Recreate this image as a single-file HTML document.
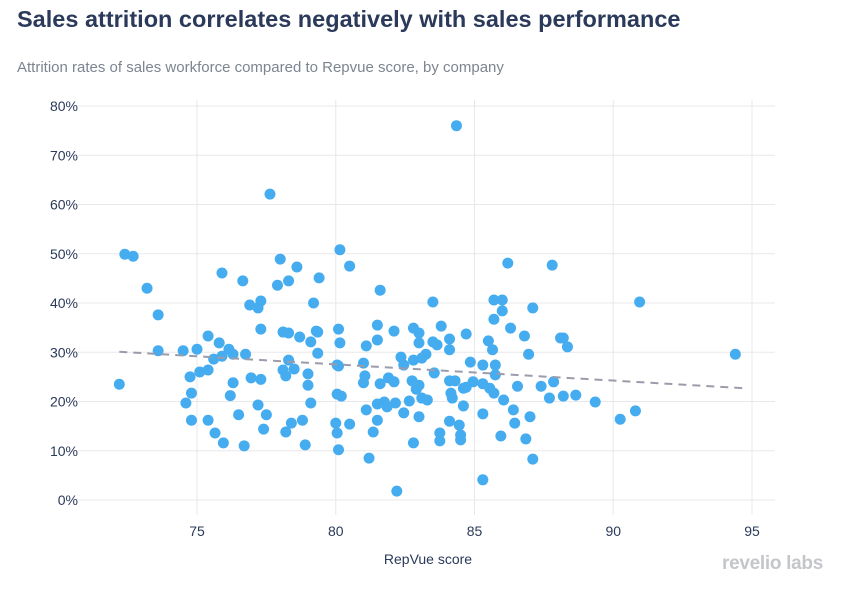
<!DOCTYPE html>
<html><head><meta charset="utf-8"><style>
body{margin:0;background:#fff;width:855px;height:590px;overflow:hidden;font-family:"Liberation Sans",sans-serif}
#title{position:absolute;left:17px;top:6px;font-size:23.5px;font-weight:bold;color:#2b3a5a;margin:0}
#sub{position:absolute;left:17px;top:59px;font-size:15px;color:#7d8590}
#logo{position:absolute;left:722px;top:553px;font-size:19px;font-weight:bold;color:#c4c6ca;letter-spacing:-0.3px}
svg{position:absolute;left:0;top:0}
</style></head><body>
<h1 id="title">Sales attrition correlates negatively with sales performance</h1>
<div id="sub">Attrition rates of sales workforce compared to Repvue score, by company</div>
<div id="logo">revelio labs</div>
<svg id="chart" width="855" height="590"></svg>
<script>
const xTicks=[75,80,85,90,95];
const yTicks=[0,10,20,30,40,50,60,70,80];
const repvue=[77.63,72.4,72.7,73.2,73.6,73.6,72.2,74.5,75.0,75.4,75.8,76.15,76.3,76.75,75.9,75.6,75.9,76.65,78.0,78.6,79.4,77.9,78.3,76.9,77.2,77.3,79.2,77.3,78.1,78.3,78.7,79.3,79.35,79.1,79.35,78.3,78.1,78.5,78.2,79.0,79.0,79.1,78.8,78.4,78.2,78.9,77.4,77.5,77.2,76.95,77.3,76.3,76.2,76.5,76.7,75.95,75.65,75.4,74.8,74.6,74.8,74.75,75.1,75.4,80.15,80.1,80.15,80.05,80.05,80.0,80.05,80.1,
80.5,81.6,83.5,81.5,81.5,81.1,82.1,82.8,83.0,83.0,83.5,83.65,83.8,84.1,84.1,84.7,85.5,85.65,86.3,86.8,86.95,86.0,85.7,85.7,86.0,87.1,86.2,87.8,88.1,80.1,81.0,81.05,81.0,81.6,81.9,82.1,82.35,82.45,82.8,83.1,83.25,83.55,82.75,83.0,82.9,84.1,84.3,84.6,84.7,84.95,84.85,85.3,85.75,85.75,85.3,85.55,85.7,86.05,86.55,87.4,87.85,87.7,80.2,81.1,81.5,81.75,81.85,82.15,82.65,83.1,83.3,84.15,84.2,82.45,83.0,84.6,84.1,84.45,85.3,86.4,86.45,87.0,85.95,86.85,87.1,80.5,81.5,81.35,81.2,82.8,83.75,83.75,84.5,84.5,85.3,82.2,84.35,
90.95,94.4,88.2,88.35,88.65,88.2,89.35,90.25,90.8];
const attrition=[62.1,49.9,49.5,43.0,37.6,30.3,23.5,30.3,30.6,33.3,31.9,30.6,29.6,29.6,29.2,28.6,46.1,44.5,48.9,47.3,45.1,43.6,44.5,39.6,39.0,40.4,40.0,34.7,34.1,33.9,33.1,34.3,34.1,32.1,29.8,28.4,26.4,26.6,25.2,25.6,23.3,19.7,16.2,15.6,13.8,11.2,14.4,17.3,19.3,24.8,24.5,23.8,21.2,17.3,11.0,11.6,13.6,16.2,16.2,19.7,21.7,25.0,26.0,26.4,50.8,34.7,31.9,27.4,21.5,15.6,13.6,10.2,
47.5,42.6,40.2,35.5,32.5,31.3,34.3,34.9,33.9,31.9,32.1,31.5,35.3,32.7,30.5,33.7,32.3,30.5,34.9,33.3,29.6,38.4,36.7,40.6,40.6,39.0,48.1,47.7,32.9,27.2,27.8,25.2,23.8,23.6,24.8,24.0,29.0,27.4,28.4,28.8,29.6,25.8,24.2,23.3,22.5,24.2,24.2,22.7,22.9,24.0,28.0,27.4,27.4,25.4,23.6,22.7,21.7,20.3,23.1,23.1,24.0,20.7,21.1,18.3,19.5,19.9,18.9,19.7,20.1,20.7,20.3,21.7,20.7,17.7,16.9,19.1,16.0,15.2,17.5,18.3,15.6,16.9,13.0,12.4,8.3,15.4,16.2,13.8,8.5,11.6,13.6,12.0,13.2,12.2,4.1,1.8,76.0,
40.2,29.6,32.9,31.1,21.3,21.1,19.9,16.4,18.1];
const trendX=[72.2,94.7];
const trendY=[30.1,22.7];
const NS='http://www.w3.org/2000/svg';
const svg=document.getElementById('chart');
const L=78,R=775,T=100,B=515;
const sx=v=>197+(v-75)*27.75;
const sy=v=>500-v*4.925;
function mk(tag,attrs,parent){const e=document.createElementNS(NS,tag);for(const k in attrs)e.setAttribute(k,attrs[k]);(parent||svg).appendChild(e);return e;}
yTicks.forEach(t=>{
  const g=mk('line',{x1:L,x2:R,y1:sy(t),y2:sy(t),stroke:'#e8e8ec','stroke-width':1});
  
  
  const tx=mk('text',{x:L,y:sy(t)+5,'text-anchor':'end','font-size':14,fill:'#2b3a5a','font-family':'Liberation Sans, sans-serif'});
  tx.textContent=t+'%';
  
  
});
xTicks.forEach(t=>{
  const g=mk('line',{x1:sx(t),x2:sx(t),y1:T,y2:B,stroke:'#e8e8ec','stroke-width':1});
  
  
  const tx=mk('text',{x:sx(t),y:536,'text-anchor':'middle','font-size':14,fill:'#2b3a5a','font-family':'Liberation Sans, sans-serif'});
  tx.textContent=t;
  
  
});
const xt=mk('text',{x:428,y:564,'text-anchor':'middle','font-size':14,fill:'#2b3a5a','font-family':'Liberation Sans, sans-serif'});
xt.textContent='RepVue score';


repvue.forEach((v,i)=>{
  const c=mk('circle',{cx:sx(v),cy:sy(attrition[i]),r:5.5,fill:'#46acf0'});
  
  
});
const tl=mk('line',{x1:sx(trendX[0]),y1:sy(trendY[0]),x2:sx(trendX[1]),y2:sy(trendY[1]),stroke:'#9a9cab','stroke-width':2,'stroke-dasharray':'8,6'});


</script>
</body></html>
